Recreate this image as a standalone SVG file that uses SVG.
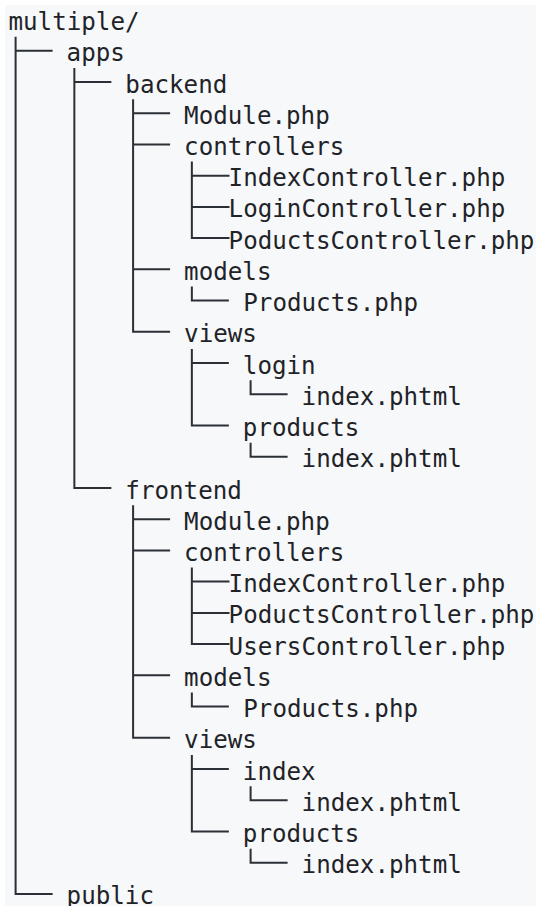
<svg xmlns="http://www.w3.org/2000/svg" width="536" height="906" viewBox="0 0 536 906">
<style>
.t{font-family:"DejaVu Sans Mono","Liberation Mono",monospace;font-size:24.2px;fill:#1f2328}
.c path{fill:none;stroke:#2b3036;stroke-width:2;stroke-linejoin:miter}
</style>
<rect x="0" y="0" width="536" height="906" fill="#ffffff"/>
<rect x="5" y="5" width="531" height="901" fill="#f6f8fa"/>
<g id="connectors" class="c">
<path d="M15.6 36.7V893.9H52.6M15.6 50.7H52.6"/>
<path d="M74.35 68V488H111.35M74.35 82H111.35"/>
<path d="M133.1 99.2V331.8H170.1M133.1 113.2H170.1M133.1 144.4H170.1M133.1 269.3H170.1"/>
<path d="M191.85 161.6V238.1H229.5M191.85 175.65H229.5M191.85 206.9H229.5"/>
<path d="M191.85 286.6V300.6H228.85"/>
<path d="M191.85 349V425.5H228.85M191.85 363H228.85"/>
<path d="M250.6 380.3V394.3H287.6"/>
<path d="M250.6 442.7V456.7H287.6"/>
<path d="M133.1 505.2V737.8H170.1M133.1 519.2H170.1M133.1 550.4H170.1M133.1 675.3H170.1"/>
<path d="M191.85 567.6V644.1H229.5M191.85 581.6H229.5M191.85 612.9H229.5"/>
<path d="M191.85 692.6V706.6H228.85"/>
<path d="M191.85 755V831.5H228.85M191.85 769H228.85"/>
<path d="M250.6 786.25V800.25H287.6"/>
<path d="M250.6 848.7V862.7H287.6"/>
</g>
<g id="n-multiple"><text class="t" x="8.5" y="30">multiple/</text></g>
<g id="n-apps"><text class="t" x="66.6" y="61.2">apps</text></g>
<g id="n-backend"><text class="t" x="125.35" y="92.5">backend</text></g>
<g id="n-backend-module"><text class="t" x="184.1" y="123.7">Module.php</text></g>
<g id="n-backend-controllers"><text class="t" x="184.1" y="154.9">controllers</text></g>
<g id="n-backend-index-controller"><text class="t" x="228.6" y="186.2">IndexController.php</text></g>
<g id="n-backend-login-controller"><text class="t" x="228.6" y="217.4">LoginController.php</text></g>
<g id="n-backend-poducts-controller"><text class="t" x="228.6" y="248.6">PoductsController.php</text></g>
<g id="n-backend-models"><text class="t" x="184.1" y="279.8">models</text></g>
<g id="n-backend-products"><text class="t" x="243.3" y="311.1">Products.php</text></g>
<g id="n-backend-views"><text class="t" x="184.1" y="342.3">views</text></g>
<g id="n-backend-views-login"><text class="t" x="242.85" y="373.5">login</text></g>
<g id="n-backend-views-login-index"><text class="t" x="301.6" y="404.8">index.phtml</text></g>
<g id="n-backend-views-products"><text class="t" x="242.85" y="436">products</text></g>
<g id="n-backend-views-products-index"><text class="t" x="301.6" y="467.2">index.phtml</text></g>
<g id="n-frontend"><text class="t" x="125.35" y="498.5">frontend</text></g>
<g id="n-frontend-module"><text class="t" x="184.1" y="529.7">Module.php</text></g>
<g id="n-frontend-controllers"><text class="t" x="184.1" y="560.9">controllers</text></g>
<g id="n-frontend-index-controller"><text class="t" x="228.6" y="592.1">IndexController.php</text></g>
<g id="n-frontend-poducts-controller"><text class="t" x="228.6" y="623.4">PoductsController.php</text></g>
<g id="n-frontend-users-controller"><text class="t" x="228.6" y="654.6">UsersController.php</text></g>
<g id="n-frontend-models"><text class="t" x="184.1" y="685.8">models</text></g>
<g id="n-frontend-products"><text class="t" x="243.3" y="717.1">Products.php</text></g>
<g id="n-frontend-views"><text class="t" x="184.1" y="748.3">views</text></g>
<g id="n-frontend-views-index"><text class="t" x="242.85" y="779.5">index</text></g>
<g id="n-frontend-views-index-index"><text class="t" x="301.6" y="810.8">index.phtml</text></g>
<g id="n-frontend-views-products"><text class="t" x="242.85" y="842">products</text></g>
<g id="n-frontend-views-products-index"><text class="t" x="301.6" y="873.2">index.phtml</text></g>
<g id="n-public"><text class="t" x="66.6" y="904.4">public</text></g>
</svg>
